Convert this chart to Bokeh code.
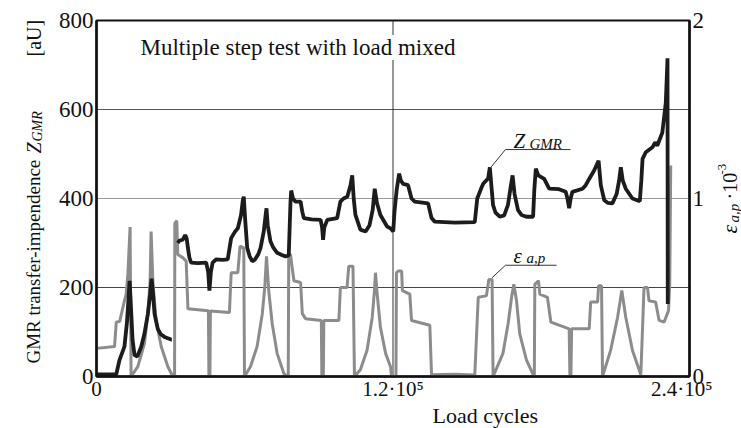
import math
from bokeh.plotting import figure
from bokeh.layouts import row
from bokeh.models import Range1d, LinearAxis, FixedTicker, Span, Label, Arrow
from bokeh.embed import file_html
from bokeh.resources import INLINE

nan = float("nan")

# Load cycles in thousands, GMR transfer impedance Z_GMR [aU]
z_cycles = [0, 8.0, 9.3, 11.3, 12.3, 12.9, 13.4, 14.0, 14.6, 15.4, 16.5, 18.1, 19.4, 20.8, 21.7, 22.3, 22.8,
            23.5, 24.8, 26.0, 27.5, 30.2, 30.5, 31.7, 32.9, 33.5, 35.0, 35.9, 36.5, 37.0, 37.6, 38.3, 41.0,
            44.4, 45.2, 45.7, 46.3, 47.0, 48.4, 51.0, 53.1, 54.5, 56.0, 57.2, 58.5, 59.2, 59.6, 60.2, 61.0,
            62.0, 63.0, 64.0, 65.5, 66.4, 67.7, 68.5, 68.8, 69.3, 70.4, 71.5, 73.1, 75.0, 76.5, 77.8, 78.5,
            78.8, 79.5, 80.5, 82.6, 83.3, 83.9, 87.0, 90.7, 91.3, 91.7, 92.2, 93.4, 97.4, 98.7, 100.0, 101.5,
            102.8, 103.5, 104.1, 104.8, 106.8, 108.9, 110.5, 111.8, 112.6, 113.5, 114.9, 117.6, 119.0, 120.1,
            120.6, 121.5, 122.5, 123.2, 124.1, 126.1, 127.5, 128.8, 134.2, 135.6, 136.9, 145.0, 153.1, 154.1,
            155.5, 156.5, 158.5, 159.2, 159.8, 160.5, 161.5, 163.2, 165.0, 166.5, 167.6, 168.4, 169.2, 170.6,
            172.0, 174.0, 176.7, 177.2, 177.8, 178.8, 181.2, 183.2, 187.2, 189.9, 190.6, 191.3, 191.9, 192.6,
            196.7, 198.0, 199.4, 201.4, 203.2, 204.1, 205.5, 207.0, 208.8, 210.5, 211.5, 212.2, 213.0, 214.2,
            216.9, 219.9, 220.5, 221.0, 222.3, 225.0, 226.1, 227.0, 229.0, 230.4, 231.1, 231.2]
z_gmr = [5, 5, 37, 67, 120, 170, 215, 150, 82, 48, 45, 67, 96, 141, 185, 220, 190,
         141, 107, 95, 89, 83, 83, nan, 300, 305, 308, 318, 310, 289, 267, 256, 255,
         256, 235, 193, 235, 256, 263, 262, 263, 311, 325, 333, 363, 395, 404, 350, 289,
         270, 259, 262, 275, 289, 326, 365, 378, 340, 304, 290, 278, 273, 270, 272, 390,
         418, 400, 393, 393, 370, 356, 353, 352, 335, 307, 335, 352, 356, 393, 400, 404,
         430, 452, 400, 363, 330, 326, 340, 375, 422, 390, 363, 337, 333, 326,
         370, 420, 456, 440, 433, 430, 400, 393, 389, 356, 348, 346, 347, 400,
         420, 433, 445, 470, 430, 385, 368, 359, 362, 385, 425, 452, 410, 374,
         363, 359, 359, 420, 467, 452, 444, 422, 421, 415, 400, 378, 400, 415,
         422, 430, 444, 463, 485, 430, 396, 390, 389, 410, 440, 470, 440, 422,
         400, 394, 440, 489, 504, 515, 526, 519, 548, 615, 715, 163]

# Load cycles in thousands, strain amplitude eps_a,p [10^-3]
eps_cycles = [0, 7.3, 8.0, 9.4, 11.3, 12.0, 12.7, 13.6, 14.0, 16.7, 19.4, 20.8, 21.7, 22.1, 22.8, 24.1, 26.2,
              28.9, 30.9, 31.6, 31.7, 32.5, 32.9, 34.9, 36.3, 37.0, 45.0, 45.3, 45.5, 45.9, 46.1, 53.8, 54.5,
              57.2, 58.1, 59.6, 59.9, 62.3, 65.0, 67.1, 68.1, 68.8, 69.7, 71.1, 73.1, 75.8, 77.2, 77.6, 77.8,
              78.5, 79.9, 82.6, 83.3, 84.6, 91.0, 91.2, 91.8, 92.0, 98.1, 98.7, 101.4, 102.1, 103.8, 104.4,
              106.8, 109.5, 111.6, 112.5, 112.9, 113.6, 114.9, 117.0, 119.0, 119.4, 121.2, 121.4, 122.1, 123.5,
              123.8, 126.8, 127.5, 134.9, 135.6, 145.0, 153.1, 154.5, 157.8, 158.8, 160.1, 160.5, 164.5, 166.6,
              168.0, 168.9, 170.0, 171.3, 174.0, 176.7, 177.2, 177.4, 178.9, 179.4, 182.5, 183.9, 191.3, 191.6,
              192.0, 192.3, 199.4, 200.0, 202.8, 203.2, 204.4, 204.8, 208.1, 210.9, 212.6, 214.2, 216.9, 220.3,
              221.6, 223.0, 223.6, 226.3, 227.7, 229.7, 231.5, 232.0, 232.4]
eps_ap = [0.158, 0.168, 0.305, 0.31, 0.425, 0.463, 0.575, 0.84, 0.0, 0.055, 0.185, 0.353, 0.538, 0.815, 0.538, 0.315, 0.168,
          0.055, 0.0, 0.0, 0.86, 0.875, 0.685, 0.668, 0.648, 0.38, 0.37, 0.37, 0.0, 0.0, 0.368, 0.36, 0.583,
          0.583, 0.733, 0.723, 0.0, 0.055, 0.168, 0.353, 0.5, 0.675, 0.483, 0.298, 0.13, 0.018, 0.0, 0.0, 0.685,
          0.685, 0.538, 0.528, 0.353, 0.325, 0.315, 0.0, 0.0, 0.315, 0.315, 0.5, 0.5, 0.62, 0.62, 0.0,
          0.038, 0.148, 0.333, 0.483, 0.583, 0.463, 0.278, 0.13, 0.055, 0.0, 0.0, 0.583, 0.593, 0.593,
          0.483, 0.463, 0.315, 0.288, 0.01, 0.013, 0.008, 0.445, 0.453, 0.545, 0.545, 0.0, 0.13, 0.298,
          0.445, 0.518, 0.425, 0.24, 0.093, 0.01, 0.01, 0.518, 0.538, 0.463, 0.445, 0.305, 0.268, 0.0,
          0.0, 0.268, 0.268, 0.418, 0.418, 0.51, 0.51, 0.0, 0.148, 0.333, 0.483, 0.333, 0.148, 0.01,
          0.5, 0.5, 0.425, 0.418, 0.315, 0.305, 0.37, 0.518, 1.185]

x_ticks = [0, 120, 240]
x_tick_labels = {0: "0", 120: "1.2·10⁵", 240: "2.4·10⁵"}
z_ticks = [0, 200, 400, 600, 800]
eps_ticks = [0, 1, 2]

SERIF = "Liberation Serif"
INK = "#111111"
H = 428
LEFT_W = 50
RIGHT_W = 29
MAIN_W = 741 - LEFT_W - RIGHT_W


def strip(width):
    f = figure(width=width, height=H, x_range=Range1d(0, 1), y_range=Range1d(0, 1),
               x_axis_type=None, y_axis_type=None, output_backend="svg", toolbar_location=None,
               min_border=0)
    f.grid.visible = False
    f.outline_line_color = None
    f.background_fill_color = "white"
    f.border_fill_color = "white"
    return f


def lab(fig, text, x, y, size, italic=False, angle=0.0, bg=None, place="center"):
    kw = {}
    if bg is not None:
        kw["background_fill_color"] = bg
    fig.add_layout(Label(x=x, y=y, x_units="canvas", y_units="canvas", text=text,
                         text_font=SERIF, text_font_size=f"{size}px",
                         text_font_style="italic" if italic else "normal",
                         text_color=INK, angle=angle, text_align="left",
                         text_baseline="alphabetic", **kw), place)


p = figure(width=MAIN_W, height=H, x_range=Range1d(0, 240), y_range=Range1d(0, 800),
           output_backend="svg", toolbar_location=None,
           min_border_left=96 - LEFT_W, min_border_right=741 - RIGHT_W - 689,
           min_border_top=20, min_border_bottom=48)
p.extra_y_ranges = {"eps": Range1d(0, 2)}
p.grid.visible = False
p.background_fill_color = "white"
p.border_fill_color = "white"
p.outline_line_color = INK
p.outline_line_width = 2

right_axis = LinearAxis(y_range_name="eps")
p.add_layout(right_axis, "right")

p.xaxis.ticker = FixedTicker(ticks=x_ticks)
p.xaxis.major_label_overrides = x_tick_labels
p.yaxis[0].ticker = FixedTicker(ticks=z_ticks)
right_axis.ticker = FixedTicker(ticks=eps_ticks)

for ax in [p.xaxis[0], p.yaxis[0], right_axis]:
    ax.major_tick_out = 0
    ax.major_tick_in = 0
    ax.minor_tick_out = 0
    ax.minor_tick_in = 0
    ax.axis_line_color = INK
    ax.axis_line_width = 2.5
    ax.major_label_text_font = SERIF
    ax.major_label_text_font_size = "23px"
    ax.major_label_text_color = INK
    ax.major_label_standoff = 3
p.xaxis.major_label_text_font_size = "21px"
p.xaxis.major_label_standoff = 0

# grid lines
for yv, col in [(200, "#444444"), (400, "#9a9a9a"), (600, "#555555")]:
    p.add_layout(Span(location=yv, dimension="width", line_color=col, line_width=1.2, level="underlay"))
p.add_layout(Span(location=120, dimension="height", line_color="#333333", line_width=1, level="underlay"))

p.line(eps_cycles, eps_ap, y_range_name="eps", line_color="#8c8c8c", line_width=3)
p.line(z_cycles, z_gmr, line_color="#1c1c1c", line_width=3.8)

R = math.pi / 2
ox = LEFT_W  # main canvas x offset
# title
lab(p, "Multiple step test with load mixed", 140 - ox, 47, 23, bg="white")
# x label
lab(p, "Load cycles", 432 - ox, 415, 22, place="below")
# series labels
lab(p, "Z", 513 - ox, 140, 21, italic=True)
lab(p, "GMR", 529 - ox, 143, 15, italic=True)
lab(p, "ε", 513 - ox, 255, 21, italic=True)
lab(p, "a,p", 526 - ox, 257, 15, italic=True)

# leader lines (data units)
for xs, ys, xe, ye in [(159.6, 470, 165.5, 510), (165.5, 510, 191.8, 510),
                       (160.1, 222, 165.5, 250), (165.5, 250, 186.2, 250)]:
    p.add_layout(Arrow(end=None, x_start=xs, y_start=ys, x_end=xe, y_end=ye,
                       line_color="#333333", line_width=1))

# left axis label strip
left = strip(LEFT_W)
lab(left, "GMR transfer-impendence", 33, 363, 19, angle=R)
lab(left, "Z", 33, 153, 20, italic=True, angle=R)
lab(left, "GMR", 37, 141, 14, italic=True, angle=R)
lab(left, "[aU]", 33, 56, 20, angle=R)

# right axis label strip
right = strip(RIGHT_W)
rx = 741 - RIGHT_W
lab(right, "ε", 729 - rx, 233, 22, italic=True, angle=R)
lab(right, "a,p", 733 - rx, 222, 15, italic=True, angle=R)
lab(right, "·10", 729 - rx, 199, 20, angle=R)
lab(right, "-3", 721 - rx, 174, 13, angle=R)

layout = row(left, p, right, spacing=0)
open("out.html", "w").write(file_html(layout, INLINE))
